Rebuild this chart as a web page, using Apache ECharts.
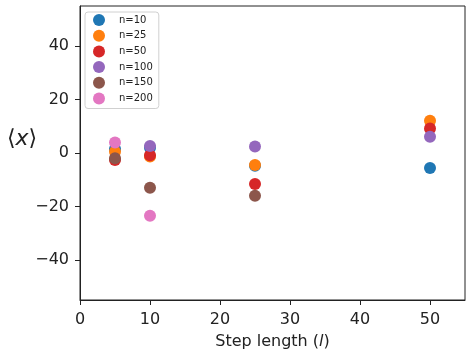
<!DOCTYPE html>
<html>
<head>
<meta charset="utf-8">
<script src="https://cdn.jsdelivr.net/npm/echarts@6/dist/echarts.min.js"></script>
<style>html,body{margin:0;padding:0;background:#fff}#c{width:466px;height:353px}</style>
</head>
<body>
<div id="c"></div>
<script>
const stepLengths = [5, 10, 25, 50];
const seriesNames = ['n=10', 'n=25', 'n=50', 'n=100', 'n=150', 'n=200'];
const n10  = [1.5, 2.0, -4.8, -5.6];
const n25  = [0.5, -1.3, -4.5, 12.1];
const n50  = [-2.6, -0.8, -11.6, 9.2];
const n100 = [null, 2.6, 2.4, 6.1];
const n150 = [-2.0, -13.0, -16.0, null];
const n200 = [3.9, -23.5, null, null];
const xTicks = [0, 10, 20, 30, 40, 50];
const yTicks = [-40, -20, 0, 20, 40];
const colors = ['#1f77b4', '#ff7f0e', '#d62728', '#9467bd', '#8c564b', '#e377c2'];

const allValues = [n10, n25, n50, n100, n150, n200];
const font = 'DejaVu Sans';
const chart = echarts.init(document.getElementById('c'), null, {renderer: 'canvas'});
const series = allValues.map((vals, i) => ({
  name: seriesNames[i],
  type: 'scatter',
  symbol: 'circle',
  symbolSize: 12,
  itemStyle: {color: colors[i], opacity: 1},
  data: stepLengths.map((x, j) => vals[j] == null ? null : [x, vals[j]]).filter(d => d)
}));
const fmt = v => String(v).replace('-', '\u2212');
chart.setOption({
  animation: false,
  color: colors,
  grid: {left: 80, right: 1, top: 6, bottom: 53, show: true, borderColor: '#222', borderWidth: 1,
         containLabel: false, outerBoundsMode: 'none'},
  legend: {
    left: 85, top: 12, orient: 'vertical',
    itemWidth: 12, itemHeight: 12, itemGap: 3.7, icon: 'circle',
    padding: [2, 6, 4, 8],
    borderColor: '#d0d0d0', borderWidth: 1, borderRadius: 3, backgroundColor: '#fff',
    textStyle: {fontFamily: font, fontSize: 10, color: '#222', padding: [0, 0, 0, 9]},
    data: seriesNames
  },
  xAxis: {
    type: 'value', min: 0, max: 55,
    axisLine: {show: true, onZero: false, lineStyle: {color: '#222', width: 1}},
    axisTick: {show: true, length: 5, customValues: xTicks, lineStyle: {color: '#222'}},
    axisLabel: {customValues: xTicks, fontFamily: font, fontSize: 16, color: '#222', margin: 12, formatter: fmt},
    splitLine: {show: false},
    name: '{a|Step length (}{b|l}{a|)}',
    nameLocation: 'middle', nameGap: 34,
    nameTextStyle: {rich: {a: {fontFamily: font, fontSize: 16, color: '#222'}, b: {fontFamily: font, fontSize: 16, fontStyle: 'italic', color: '#222'}}}
  },
  yAxis: {
    type: 'value', min: -55, max: 55,
    axisLine: {show: true, onZero: false, lineStyle: {color: '#222', width: 1}},
    axisTick: {show: true, length: 5, customValues: yTicks, lineStyle: {color: '#222'}},
    axisLabel: {customValues: yTicks, fontFamily: font, fontSize: 16, color: '#222', margin: 11, formatter: fmt},
    splitLine: {show: false}
  },
  graphic: [{
    type: 'text', left: 7, top: 128,
    style: {
      text: '{a|\u27e8}{b|x}{a|\u27e9}',
      rich: {a: {fontFamily: font, fontSize: 22, fill: '#222'}, b: {fontFamily: font, fontSize: 22, fontStyle: 'italic', fill: '#222'}}
    }
  }],
  series: series
});
</script>
</body>
</html>
